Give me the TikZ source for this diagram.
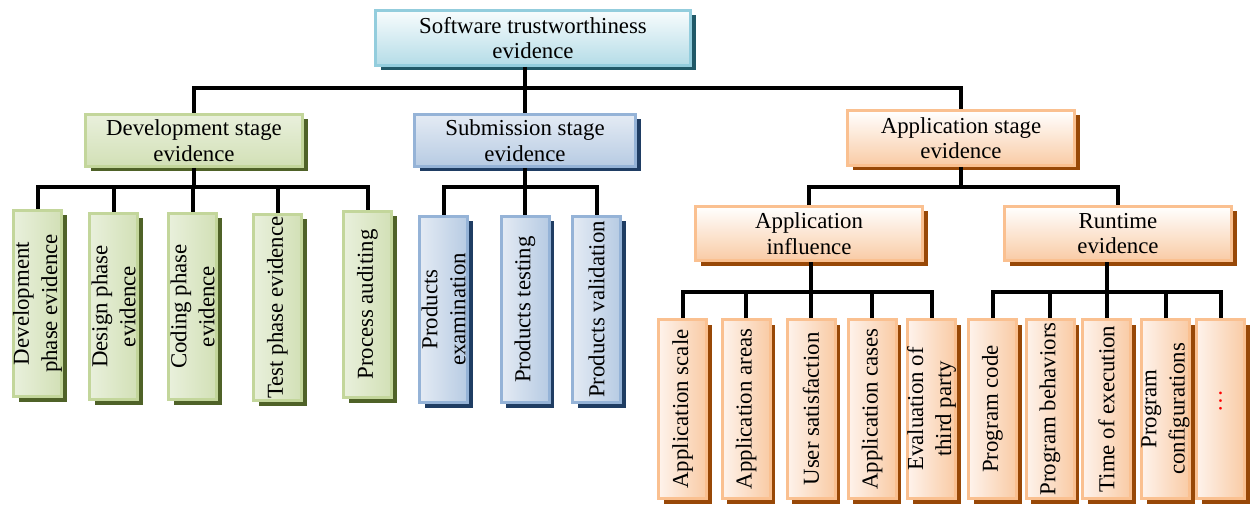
\documentclass[tikz,border=0pt]{standalone}
\usepackage{fontspec}
\setmainfont{Liberation Serif}
\newfontfamily\tnrfont{Liberation Serif}
\usetikzlibrary{shadows}
\newdimen\pxu
\pxu=0.02cm
\definecolor{cyB}{HTML}{93CDDD}
\definecolor{cyT}{HTML}{F8FCFD}
\definecolor{cyD}{HTML}{B4DCE7}
\definecolor{cyS}{HTML}{215968}
\definecolor{grB}{HTML}{C3D69B}
\definecolor{grL}{HTML}{E9F0DC}
\definecolor{grD}{HTML}{D2E0B6}
\definecolor{grS}{HTML}{4F6228}
\definecolor{blB}{HTML}{95B3D7}
\definecolor{blL}{HTML}{E4EBF4}
\definecolor{blD}{HTML}{B7CBE3}
\definecolor{blS}{HTML}{1F3D63}
\definecolor{orB}{HTML}{FAC090}
\definecolor{orL}{HTML}{FEF3EC}
\definecolor{orD}{HTML}{F9CBA5}
\definecolor{orS}{HTML}{984807}
\tikzset{
  conn/.style={line width=4\pxu, black},
  hb/.style n args={4}{draw=#1, line width=3\pxu, inner sep=0pt,
    top color=#2, bottom color=#3,
    drop shadow={shadow xshift=5\pxu, shadow yshift=-5\pxu, fill=#4, opacity=1},
    align=center, font=\tnrfont\fontsize{13}{14.5}\selectfont},
  vb/.style n args={4}{draw=#1, line width=3\pxu, inner sep=0pt,
    left color=#2, right color=#3, minimum width=48\pxu,
    drop shadow={shadow xshift=5\pxu, shadow yshift=-5\pxu, fill=#4, opacity=1}},
  vlab/.style={rotate=90, align=center, inner sep=0pt,
    font=\tnrfont\fontsize{13}{16}\selectfont},
  cybox/.style={hb={cyB}{cyT}{cyD}{cyS}},
  grbox/.style={hb={grB}{grL}{grD}{grS}},
  blbox/.style={hb={blB}{blL}{blD}{blS}},
  orbox/.style={hb={orB}{white}{orD}{orS}},
  grv/.style={vb={grB}{grL}{grD}{grS}},
  blv/.style={vb={blB}{blL}{blD}{blS}},
  orv/.style={vb={orB}{orL}{orD}{orS}},
}
\begin{document}
\begin{tikzpicture}[x=0.02cm, y=-0.02cm]
\useasboundingbox (0,0) rectangle (1257,513);
% level 0 and 1
\node[cybox, minimum width=315\pxu, minimum height=55\pxu] (top) at (533,38) {Software trustworthiness\\evidence};
\node[grbox, minimum width=217\pxu, minimum height=52\pxu] (dev) at (194,140.5) {Development stage\\evidence};
\node[blbox, minimum width=221\pxu, minimum height=52\pxu] (sub) at (525,140.5) {Submission stage\\evidence};
\node[orbox, minimum width=227\pxu, minimum height=55\pxu] (app) at (961,138) {Application stage\\evidence};
\node[orbox, minimum width=227\pxu, minimum height=54\pxu] (inf) at (809,233.5) {Application\\influence};
\node[orbox, minimum width=227\pxu, minimum height=54\pxu] (rt) at (1118,233.5) {Runtime\\evidence};
% development children
\node[grv, minimum height=186\pxu] (d1) at (37.5,303.5) {};
\node[grv, minimum height=186\pxu] (d2) at (113.5,306.5) {};
\node[grv, minimum height=186\pxu] (d3) at (192.5,306.5) {};
\node[grv, minimum height=186\pxu] (d4) at (277.5,307.5) {};
\node[grv, minimum height=186\pxu] (d5) at (367.5,304.5) {};
\node[vlab] (d1t) at (d1) {Development\\phase evidence};
\node[vlab] (d2t) at (d2) {Design phase\\evidence};
\node[vlab] (d3t) at (d3) {Coding phase\\evidence};
\node[vlab] (d4t) at (d4) {Test phase evidence};
\node[vlab] (d5t) at (d5) {Process auditing};
% submission children
\node[blv, minimum height=186\pxu] (s1) at (443.5,309.5) {};
\node[blv, minimum height=186\pxu] (s2) at (525,309.5) {};
\node[blv, minimum height=186\pxu] (s3) at (596.5,309.5) {};
\node[vlab] (s1t) at (s1) {Products\\examination};
\node[vlab] (s2t) at (s2) {Products testing};
\node[vlab] (s3t) at (s3) {Products validation};
% application influence children
\node[orv, minimum height=179\pxu] (a1) at (682.5,409) {};
\node[orv, minimum height=179\pxu] (a2) at (746,409) {};
\node[orv, minimum height=179\pxu] (a3) at (811,409) {};
\node[orv, minimum height=179\pxu] (a4) at (872,409) {};
\node[orv, minimum height=179\pxu] (a5) at (931.5,409) {};
\node[vlab] (a1t) at (a1) {Application scale};
\node[vlab] (a2t) at (a2) {Application areas};
\node[vlab] (a3t) at (a3) {User satisfaction};
\node[vlab] (a4t) at (a4) {Application cases};
\node[vlab] (a5t) at (a5) {Evaluation of\\third party};
% runtime children
\node[orv, minimum height=179\pxu] (r1) at (992.5,409) {};
\node[orv, minimum height=179\pxu] (r2) at (1050,409) {};
\node[orv, minimum height=179\pxu] (r3) at (1106.5,409) {};
\node[orv, minimum height=179\pxu] (r4) at (1165.5,409) {};
\node[orv, minimum height=179\pxu] (r5) at (1220.5,409) {};
\node[vlab] (r1t) at (r1) {Program code};
\node[vlab] (r2t) at (r2) {Program behaviors};
\node[vlab] (r3t) at (r3) {Time of execution};
\node[vlab] (r4t) at (r4) {Program\\configurations};
\node[vlab, text=red] (r5t) at ([yshift=8\pxu]r5.center) {\ldots};
% connectors
\coordinate (h1) at (0,88);
\coordinate (h2) at (0,187);
\coordinate (h3) at (0,292);
\draw[conn] (top.south -| sub.north) -- (sub.north);
\draw[conn] (dev.north) -- (dev.north |- h1) -- (app.north |- h1) -- (app.north);
\draw[conn] (dev.south) -- (dev.south |- h2);
\draw[conn] (d1.north) -- (d1.north |- h2) -- (d5.north |- h2) -- (d5.north);
\foreach \n in {d2,d3,d4} \draw[conn] (\n.north) -- (\n.north |- h2);
\draw[conn] (sub.south) -- (sub.south |- h2);
\draw[conn] (s1.north) -- (s1.north |- h2) -- (s3.north |- h2) -- (s3.north);
\draw[conn] (s2.north) -- (s2.north |- h2);
\draw[conn] (app.south) -- (app.south |- h2);
\draw[conn] (inf.north) -- (inf.north |- h2) -- (rt.north |- h2) -- (rt.north);
\draw[conn] (inf.south -| a3.north) -- (a3.north |- h3);
\draw[conn] (a1.north) -- (a1.north |- h3) -- (a5.north |- h3) -- (a5.north);
\foreach \n in {a2,a3,a4} \draw[conn] (\n.north) -- (\n.north |- h3);
\draw[conn] (rt.south -| r3.north) -- (r3.north |- h3);
\draw[conn] (r1.north) -- (r1.north |- h3) -- (r5.north |- h3) -- (r5.north);
\foreach \n in {r2,r3,r4} \draw[conn] (\n.north) -- (\n.north |- h3);
\end{tikzpicture}
\end{document}
